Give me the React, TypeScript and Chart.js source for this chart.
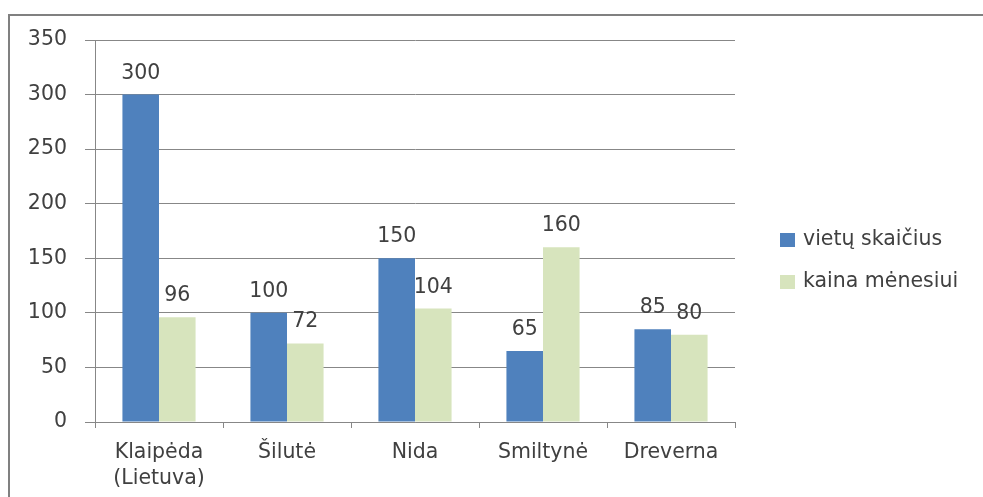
import React, { useEffect, useRef } from "react";
import { Chart, registerables } from "chart.js";

Chart.register(...registerables);

const categories: (string | string[])[] = [["Klaipėda", "(Lietuva)"], "Šilutė", "Nida", "Smiltynė", "Dreverna"];
const vietuSkaicius = [300, 100, 150, 65, 85];
const kainaMenesiui = [96, 72, 104, 160, 80];
const seriesNames = ["vietų skaičius", "kaina mėnesiui"];
const yMin = 0;
const yMax = 350;
const yStep = 50;

const FONT = "'DejaVu Sans', sans-serif";
const TEXT = "#404040";
const GRID = "#878787";
const FS = 20.5;

const valueLabels = {
  id: "valueLabels",
  afterDatasetsDraw(chart: any) {
    const ctx = chart.ctx;
    ctx.save();
    ctx.font = `${FS}px ${FONT}`;
    ctx.fillStyle = TEXT;
    ctx.textAlign = "center";
    ctx.textBaseline = "bottom";
    chart.data.datasets.forEach((ds: any, di: number) => {
      const meta = chart.getDatasetMeta(di);
      meta.data.forEach((el: any, i: number) => {
        ctx.fillText(String(ds.data[i]), el.x, el.y - 11);
      });
    });
    ctx.restore();
  },
};

const sideLegend = {
  id: "sideLegend",
  afterDraw(chart: any) {
    const ctx = chart.ctx;
    ctx.save();
    ctx.font = `${FS}px ${FONT}`;
    ctx.textAlign = "left";
    ctx.textBaseline = "middle";
    const x0 = chart.chartArea.right + 45;
    const yc = [240, 282];
    chart.data.datasets.forEach((ds: any, di: number) => {
      const y = yc[di];
      ctx.fillStyle = ds.backgroundColor;
      ctx.fillRect(x0, y - 7, 15, 14);
      ctx.fillStyle = TEXT;
      ctx.fillText(ds.label, x0 + 23, y);
    });
    ctx.restore();
  },
};

export default function App() {
  const ref = useRef<HTMLCanvasElement>(null);
  useEffect(() => {
    if (!ref.current) return;
    const chart = new Chart(ref.current, {
      type: "bar",
      data: {
        labels: categories,
        datasets: [
          { label: seriesNames[0], data: vietuSkaicius, backgroundColor: "#4F81BD" },
          { label: seriesNames[1], data: kainaMenesiui, backgroundColor: "#D7E4BD" },
        ],
      },
      options: {
        animation: false,
        responsive: true,
        maintainAspectRatio: false,
        layout: { padding: { top: 40, right: 248, left: 0, bottom: 0 } },
        datasets: { bar: { categoryPercentage: 2 / 3.5, barPercentage: 1 } },
        plugins: { legend: { display: false }, tooltip: { enabled: false } },
        scales: {
          x: {
            offset: true,
            grid: { display: true, drawOnChartArea: false, drawTicks: true, tickLength: 6, color: GRID, offset: true },
            border: { display: true, color: GRID },
            ticks: { color: TEXT, font: { family: FONT, size: FS, lineHeight: 1.3 }, padding: 11, maxRotation: 0 },
            afterFit: (s: any) => { s.height = 75; },
          },
          y: {
            min: yMin,
            max: yMax,
            ticks: { stepSize: yStep, color: TEXT, font: { family: FONT, size: FS }, padding: 18 },
            grid: { color: GRID, tickLength: 10, drawTicks: true },
            border: { display: true, color: GRID },
            afterFit: (s: any) => { s.width = 95; },
          },
        },
      },
      plugins: [valueLabels, sideLegend],
    });
    return () => chart.destroy();
  }, []);
  return (
    <div style={{ position: "fixed", left: 0, top: 0, width: 983, height: 497, background: "#fff" }}>
      <div style={{ position: "absolute", left: 8, top: 14, width: 1000, height: 500, borderTop: "2px solid #808080", borderLeft: "2px solid #808080", boxSizing: "border-box" }} />
      <div style={{ position: "absolute", left: 0, top: 0, width: 983, height: 497 }}>
        <canvas ref={ref} />
      </div>
    </div>
  );
}
